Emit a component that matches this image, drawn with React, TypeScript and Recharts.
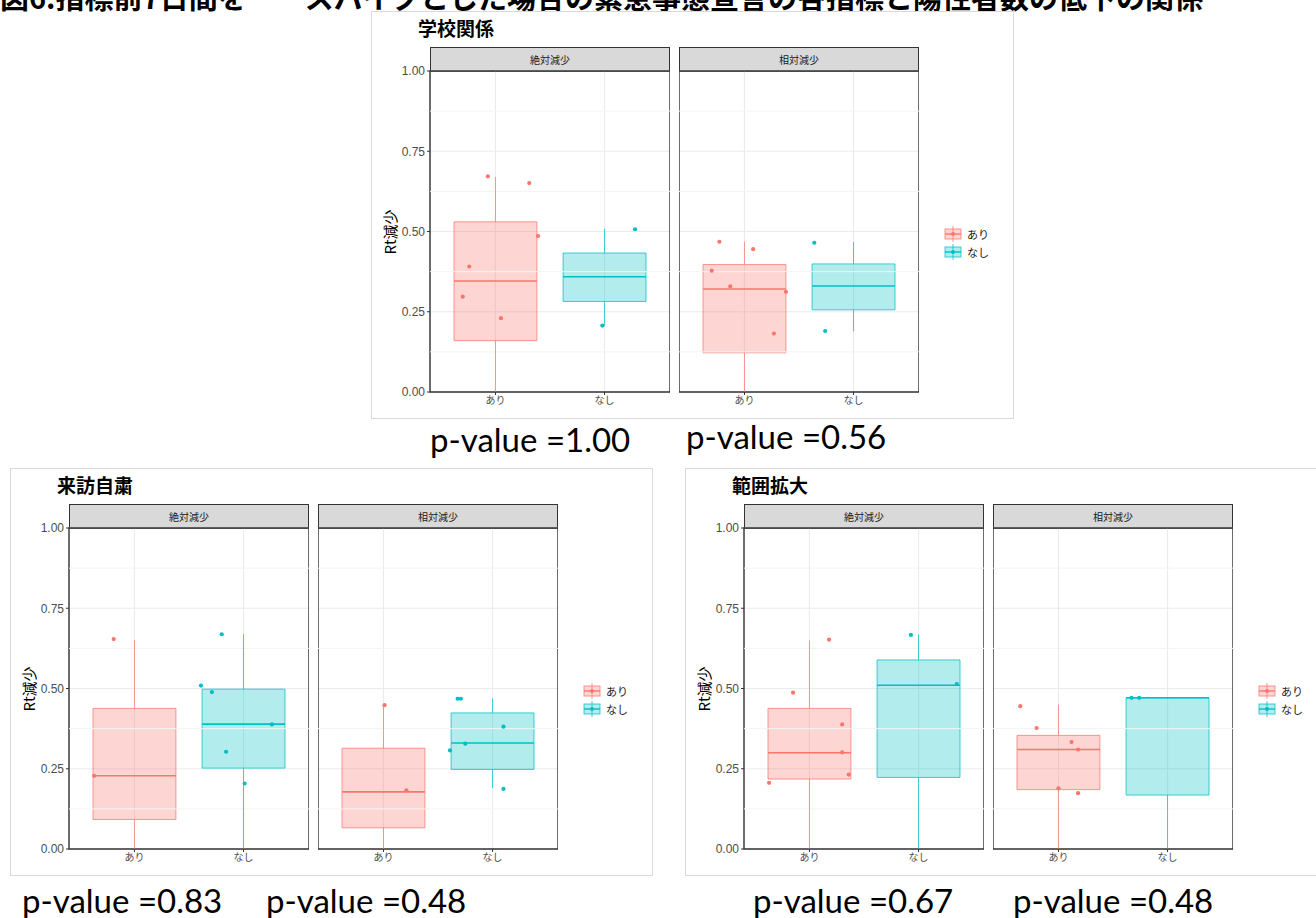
import React from 'react';
import { ScatterChart, Scatter, XAxis, YAxis, CartesianGrid, ReferenceArea, ReferenceLine } from 'recharts';

const groups = ['あり', 'なし'];
const colors = ['#F8766D', '#00BFC4'];
const facets = ['絶対減少', '相対減少'];
const yTicks = [0, 0.25, 0.5, 0.75, 1];
const yMinor = [0.125, 0.375, 0.625, 0.875];

// box stats per facet, per group: [lower whisker, Q1, median, Q3, upper whisker]
const schoolBoxes = [
  [[0, 0.16, 0.346, 0.53, 0.67], [0.207, 0.282, 0.359, 0.433, 0.509]],
  [[0, 0.122, 0.321, 0.397, 0.468], [0.189, 0.256, 0.33, 0.399, 0.468]],
];
const visitBoxes = [
  [[0, 0.092, 0.228, 0.438, 0.651], [0, 0.252, 0.389, 0.498, 0.669]],
  [[0, 0.066, 0.178, 0.314, 0.448], [0.19, 0.248, 0.33, 0.424, 0.469]],
];
const rangeBoxes = [
  [[0, 0.218, 0.3, 0.438, 0.65], [0, 0.223, 0.51, 0.589, 0.668]],
  [[0, 0.185, 0.31, 0.354, 0.45], [0, 0.168, 0.471, 0.471, 0.471]],
];

// jittered points per facet, per group: [jitter, value]
const schoolPoints = [
  [
    [[-0.07, 0.672], [0.31, 0.651], [0.39, 0.486], [-0.24, 0.391], [-0.3, 0.297], [0.05, 0.23]],
    [[0.28, 0.507], [-0.02, 0.207]],
  ],
  [
    [[-0.23, 0.468], [0.08, 0.445], [-0.3, 0.378], [-0.13, 0.329], [0.38, 0.312], [0.27, 0.182]],
    [[-0.36, 0.465], [-0.26, 0.19]],
  ],
];
const visitPoints = [
  [
    [[-0.19, 0.654], [-0.37, 0.228]],
    [[-0.2, 0.669], [-0.39, 0.509], [-0.29, 0.489], [0.26, 0.388], [-0.16, 0.303], [0.01, 0.204]],
  ],
  [
    [[0.01, 0.448], [0.21, 0.183]],
    [[-0.32, 0.468], [-0.29, 0.468], [0.1, 0.381], [-0.25, 0.328], [-0.39, 0.307], [0.1, 0.187]],
  ],
];
const rangePoints = [
  [
    [[0.18, 0.652], [-0.15, 0.487], [0.3, 0.388], [0.3, 0.301], [0.36, 0.232], [-0.37, 0.206]],
    [[-0.07, 0.667], [0.35, 0.514]],
  ],
  [
    [[-0.35, 0.445], [-0.2, 0.377], [0.12, 0.333], [0.18, 0.31], [0, 0.189], [0.18, 0.174]],
    [[-0.33, 0.471], [-0.26, 0.471]],
  ],
];

const pValues = ['1.00', '0.56', '0.83', '0.48', '0.67', '0.48'];

const CJK = '"Noto Sans CJK JP", "Liberation Sans", sans-serif';
const SANS = '"Liberation Sans", "Noto Sans CJK JP", sans-serif';

const FACET_W = 240;
const PLOT_H = 321;
const X_H = 22;
const Y_W = 36;
const TOP_PAD = 8;
const HALF = 0.38;

function Facet({ boxes, points, showY }: any) {
  const marks: any[] = [];
  yMinor.forEach((v) => marks.push(<ReferenceLine key={'m' + v} y={v} stroke="#F4F4F4" strokeWidth={1} />));
  boxes.forEach(([lo, q1, med, q3, hi]: number[], g: number) => {
    const c = g + 1;
    marks.push(
      <ReferenceLine key={'wl' + g} segment={[{ x: c, y: lo }, { x: c, y: q1 }]} stroke={colors[g]} strokeOpacity={0.75} strokeWidth={1} />,
      <ReferenceLine key={'wh' + g} segment={[{ x: c, y: q3 }, { x: c, y: hi }]} stroke={colors[g]} strokeOpacity={0.75} strokeWidth={1} />,
      <ReferenceArea key={'b' + g} x1={c - HALF} x2={c + HALF} y1={q1} y2={q3} fill={colors[g]} fillOpacity={0.3} stroke={colors[g]} strokeOpacity={0.75} strokeWidth={1} />,
      <ReferenceLine key={'md' + g} segment={[{ x: c - HALF, y: med }, { x: c + HALF, y: med }]} stroke={colors[g]} strokeWidth={1.6} />
    );
  });
  return (
    <ScatterChart width={FACET_W + (showY ? Y_W : 0)} height={PLOT_H + X_H + TOP_PAD} margin={{ top: TOP_PAD, right: 0, bottom: 0, left: 0 }}>
      <CartesianGrid stroke="#EBEBEB" strokeWidth={1.1} />
      <XAxis
        type="number"
        dataKey="x"
        domain={[0.4, 2.6]}
        ticks={[1, 2]}
        allowDataOverflow
        interval={0}
        tickFormatter={(v: number) => groups[v - 1]}
        axisLine={false}
        tickLine={{ stroke: '#333' }}
        tickSize={3}
        height={X_H}
        tick={{ fill: '#4D4D4D', fontSize: 10, fontFamily: CJK }}
      />
      <YAxis
        type="number"
        dataKey="y"
        domain={[0, 1]}
        ticks={yTicks}
        allowDataOverflow
        interval={0}
        hide={!showY}
        width={Y_W}
        tickFormatter={(v: number) => v.toFixed(2)}
        axisLine={false}
        tickLine={{ stroke: '#333' }}
        tickSize={3}
        tick={{ fill: '#4D4D4D', fontSize: 12, fontFamily: SANS }}
      />
      {marks}
      {points.map((pts: number[][], g: number) => (
        <Scatter
          key={'s' + g}
          data={pts.map(([j, v]) => ({ x: g + 1 + j, y: v }))}
          isAnimationActive={false}
          shape={(p: any) => <circle cx={p.cx} cy={p.cy} r={2.1} fill={colors[g]} />}
        />
      ))}
      <ReferenceArea x1={0.4} x2={2.6} y1={0} y2={1} fill="none" stroke="#333" strokeWidth={1.4} ifOverflow="visible" />
    </ScatterChart>
  );
}

function LegendKey({ g }: { g: number }) {
  return (
    <div style={{ display: 'flex', alignItems: 'center', height: 18 }}>
      <svg width={18} height={18}>
        <line x1={9} y1={1} x2={9} y2={17} stroke={colors[g]} strokeOpacity={0.75} />
        <rect x={1} y={4} width={16} height={10} fill={colors[g]} fillOpacity={0.3} stroke={colors[g]} strokeOpacity={0.75} />
        <line x1={1} y1={9} x2={17} y2={9} stroke={colors[g]} strokeWidth={1.4} />
        <circle cx={9} cy={9} r={2} fill={colors[g]} />
      </svg>
      <span style={{ marginLeft: 5, fontSize: 11, color: '#1A1A1A', fontFamily: CJK }}>{groups[g]}</span>
    </div>
  );
}

function Panel({ left, top, width, title, boxes, points }: any) {
  const plotLeft = 58;
  const plotTop = 59;
  const facetLefts = [58, 307];
  return (
    <div style={{ position: 'absolute', left, top, width, height: 408, border: '1px solid #D9D9D9', boxSizing: 'border-box', background: '#fff' }}>
      <div style={{ position: 'absolute', left: 46, top: 5, fontSize: 19, fontWeight: 'bold', fontFamily: CJK, color: '#000', lineHeight: '21px' }}>{title}</div>
      <div
        style={{
          position: 'absolute', left: 17, top: plotTop + PLOT_H / 2, transform: 'translate(-50%, -50%) rotate(-90deg)',
          fontSize: 15, fontFamily: CJK, whiteSpace: 'nowrap', color: '#000',
        }}
      >
        Rt減少
      </div>
      {facets.map((f, i) => (
        <React.Fragment key={f}>
          <div
            style={{
              position: 'absolute', left: facetLefts[i], top: 35, width: FACET_W, height: 25, boxSizing: 'border-box',
              background: '#D9D9D9', border: '1.4px solid #333', fontSize: 10, color: '#1A1A1A', fontFamily: CJK,
              display: 'flex', alignItems: 'center', justifyContent: 'center',
            }}
          >
            {f}
          </div>
          <div style={{ position: 'absolute', left: facetLefts[i] - (i === 0 ? Y_W : 0), top: plotTop - TOP_PAD }}>
            <Facet boxes={boxes[i]} points={points[i]} showY={i === 0} />
          </div>
        </React.Fragment>
      ))}
      <div style={{ position: 'absolute', left: plotLeft + 514, top: 213 }}>
        <LegendKey g={0} />
        <LegendKey g={1} />
      </div>
    </div>
  );
}

function PValue({ left, top, value }: { left: number; top: number; value: string }) {
  return (
    <div style={{ position: 'absolute', left, top, fontSize: 33, fontFamily: '"Lato", "Liberation Sans", sans-serif', color: '#000', whiteSpace: 'nowrap', lineHeight: '32px' }}>
      p-value ={value}
    </div>
  );
}

export default function App() {
  return (
    <div style={{ position: 'absolute', left: 0, top: 0, width: 1316, height: 918, background: '#fff', overflow: 'hidden' }}>
      <div style={{ position: 'absolute', left: 0, top: -18, fontSize: 29, fontWeight: 'bold', fontFamily: CJK, whiteSpace: 'pre', lineHeight: '29px', color: '#000' }}>
        図6:指標前7日間を　　スパイクとした場合の緊急事態宣言の各指標と陽性者数の低下の関係
      </div>
      <Panel left={371} top={11} width={643} title="学校関係" boxes={schoolBoxes} points={schoolPoints} />
      <Panel left={10} top={468} width={643} title="来訪自粛" boxes={visitBoxes} points={visitPoints} />
      <Panel left={685} top={468} width={640} title="範囲拡大" boxes={rangeBoxes} points={rangePoints} />
      <PValue left={430} top={423} value={pValues[0]} />
      <PValue left={686} top={420} value={pValues[1]} />
      <PValue left={22} top={884} value={pValues[2]} />
      <PValue left={266} top={884} value={pValues[3]} />
      <PValue left={753} top={884} value={pValues[4]} />
      <PValue left={1013} top={884} value={pValues[5]} />
    </div>
  );
}
